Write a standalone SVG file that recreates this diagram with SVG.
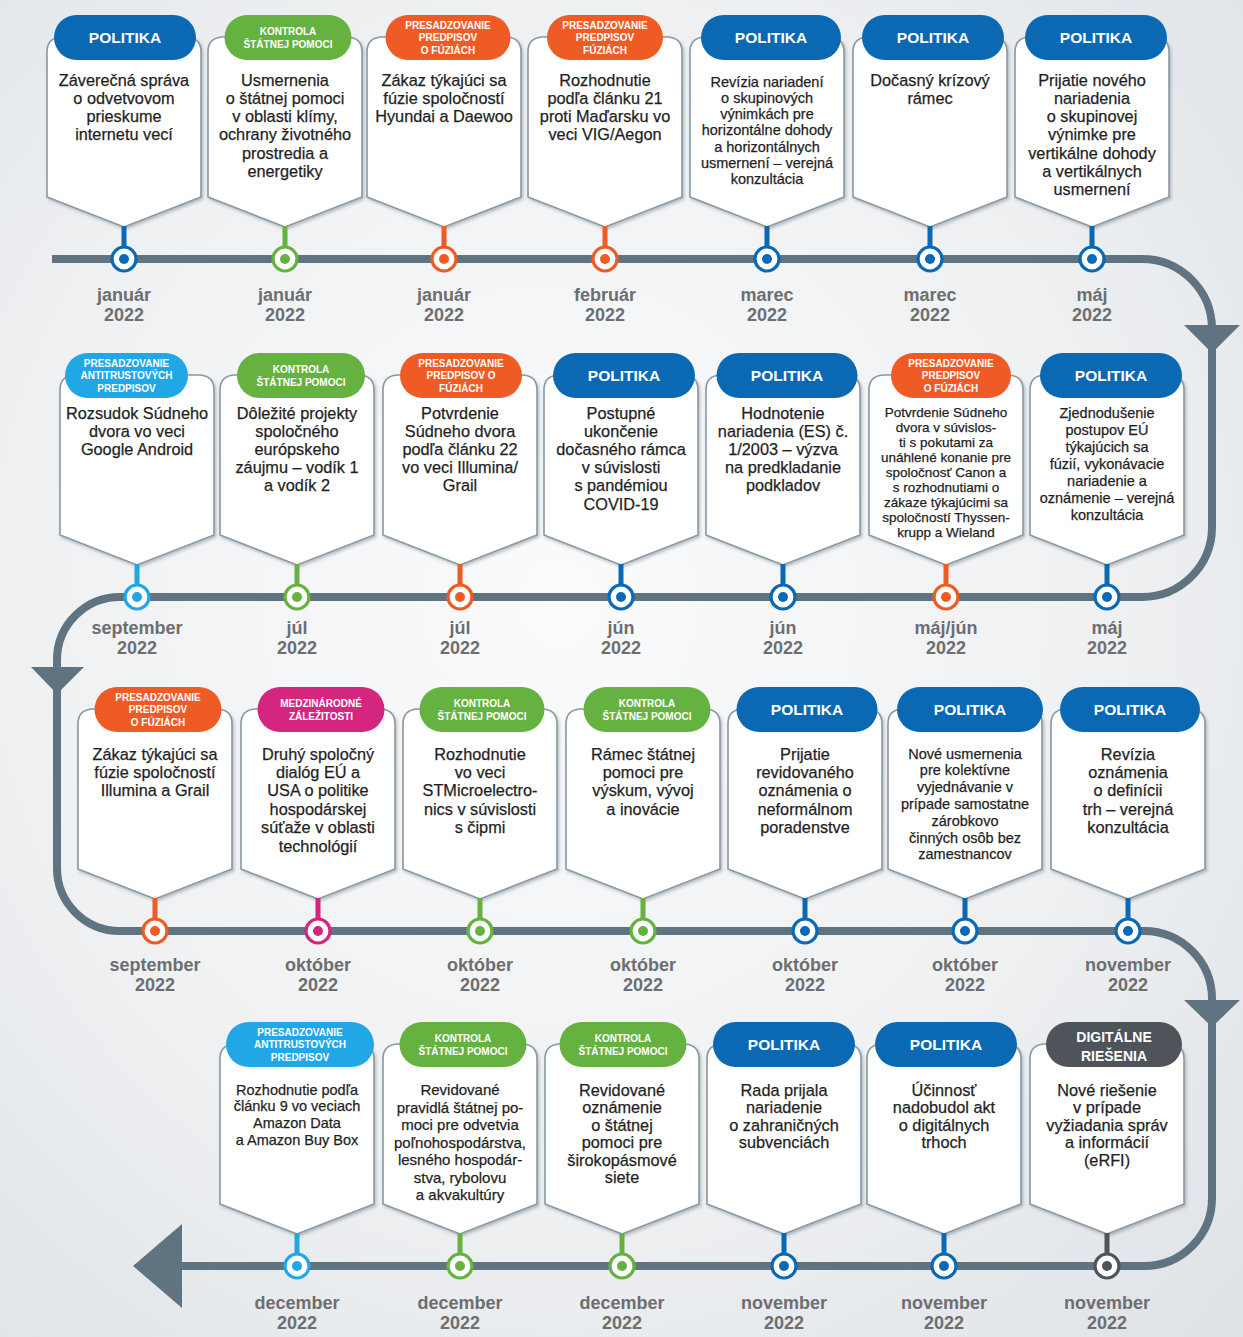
<svg xmlns="http://www.w3.org/2000/svg" xmlns:xlink="http://www.w3.org/1999/xlink" width="1243" height="1337" viewBox="0 0 1243 1337">
<defs>
<radialGradient id="bg" cx="0.45" cy="0.45" r="0.75">
<stop offset="0" stop-color="#fbfbfc"/>
<stop offset="0.6" stop-color="#eef0f2"/>
<stop offset="1" stop-color="#dfe3e7"/>
</radialGradient>
<filter id="sh" x="-20%" y="-20%" width="140%" height="140%">
<feDropShadow dx="1.5" dy="2" stdDeviation="1.5" flood-color="#4a5a66" flood-opacity="0.35"/>
</filter>
<path id="card" d="M -77 -62 L -77 -207 Q -77 -221 -63 -222 L 63 -222 Q 77 -221 77 -207 L 77 -62 L 0 -32 Z"/>
<style>
.card{fill:#ffffff;stroke:#8a98a2;stroke-width:1.6;filter:url(#sh)}
.f-pol{fill:#0b69b4}.s-pol{stroke:#0b69b4}
.f-kon{fill:#66b240}.s-kon{stroke:#66b240}
.f-fuz{fill:#ef5b25}.s-fuz{stroke:#ef5b25}
.f-ant{fill:#22a7e6}.s-ant{stroke:#22a7e6}
.f-med{fill:#d4257f}.s-med{stroke:#d4257f}
.f-dig{fill:#4e5459}.s-dig{stroke:#4e5459}
.ring{fill:#ffffff;stroke-width:3.2}
text{font-family:'Liberation Sans',Arial,sans-serif;text-anchor:middle}
.pt{font-size:15.5px;font-weight:bold;fill:#ffffff}
.ps{font-size:10px;font-weight:bold;fill:#ffffff}
.pd{font-size:14px;font-weight:bold;fill:#ffffff}
.bt,.b14,.b135,.b13,.b15{fill:#1f1f1f;stroke:#1f1f1f;stroke-width:0.25}
.bt{font-size:16.3px}
.b15{font-size:15px}
.b14{font-size:14.5px}
.b135{font-size:14.5px}
.b13{font-size:13.5px}
.dt{font-size:18px;font-weight:bold;fill:#6d6e71}
.tl{fill:none;stroke:#5f7381;stroke-width:8}
.ah{fill:#5f7381}
</style>
</defs>
<rect x="0" y="0" width="1243" height="1337" fill="url(#bg)"/>

<g id="connectors">
<path class="tl" d="M 52 259 L 1142 259 A 70 70 0 0 1 1212 329 L 1212 527 A 70 70 0 0 1 1142 597 L 120 597 A 63 63 0 0 0 57 660 L 57 868 A 63 63 0 0 0 120 931 L 1144 931 A 68 68 0 0 1 1212 999 L 1212 1198 A 68 68 0 0 1 1144 1266 L 178 1266"/>
<polygon class="ah" points="1184,325 1240,325 1212,353"/>
<polygon class="ah" points="31,667 84,667 57,694"/>
<polygon class="ah" points="1184,1000 1240,1000 1212,1027"/>
<polygon class="ah" points="133,1266 182,1224 182,1308"/>
</g>

<!-- ROW 1 -->
<g id="n01" transform="translate(124,259)">
<use href="#card" class="card"/>
<rect class="f-pol" x="-70" y="-244" width="142" height="45" rx="22.5"/>
<text class="pt" x="1" y="-216">POLITIKA</text>
<text class="bt" y="-173.5"><tspan x="0">Záverečná správa</tspan><tspan x="0" dy="18.3">o odvetvovom</tspan><tspan x="0" dy="18.3">prieskume</tspan><tspan x="0" dy="18.3">internetu vecí</tspan></text>
<rect class="f-pol" x="-2.5" y="-33" width="5" height="21"/>
<circle class="ring s-pol" r="12"/><circle class="f-pol" r="5"/>
<text class="dt" y="42">január</text><text class="dt" y="62">2022</text>
</g>

<g id="n02" transform="translate(285,259)">
<use href="#card" class="card"/>
<rect class="f-kon" x="-60.5" y="-244" width="127" height="45" rx="22.5"/>
<text class="ps" x="3" y="-224.5">KONTROLA</text>
<text class="ps" x="3" y="-211.5">ŠTÁTNEJ POMOCI</text>
<text class="bt" y="-173.5"><tspan x="0">Usmernenia</tspan><tspan x="0" dy="18.3">o štátnej pomoci</tspan><tspan x="0" dy="18.3">v oblasti klímy,</tspan><tspan x="0" dy="18.3">ochrany životného</tspan><tspan x="0" dy="18.3">prostredia a</tspan><tspan x="0" dy="18.3">energetiky</tspan></text>
<rect class="f-kon" x="-2.5" y="-33" width="5" height="21"/>
<circle class="ring s-kon" r="12"/><circle class="f-kon" r="5"/>
<text class="dt" y="42">január</text><text class="dt" y="62">2022</text>
</g>

<g id="n03" transform="translate(444,259)">
<use href="#card" class="card"/>
<rect class="f-fuz" x="-58.5" y="-244" width="125" height="45" rx="22.5"/>
<text class="ps" x="4" y="-230.5">PRESADZOVANIE</text>
<text class="ps" x="4" y="-218">PREDPISOV</text>
<text class="ps" x="4" y="-205.5">O FÚZIÁCH</text>
<text class="bt" y="-173.5"><tspan x="0">Zákaz týkajúci sa</tspan><tspan x="0" dy="18.3">fúzie spoločností</tspan><tspan x="0" dy="18.3">Hyundai a Daewoo</tspan></text>
<rect class="f-fuz" x="-2.5" y="-33" width="5" height="21"/>
<circle class="ring s-fuz" r="12"/><circle class="f-fuz" r="5"/>
<text class="dt" y="42">január</text><text class="dt" y="62">2022</text>
</g>

<g id="n04" transform="translate(605,259)">
<use href="#card" class="card"/>
<rect class="f-fuz" x="-58" y="-244" width="116" height="45" rx="22.5"/>
<text class="ps" y="-230.5">PRESADZOVANIE</text>
<text class="ps" y="-218">PREDPISOV</text>
<text class="ps" y="-205.5">FÚZIÁCH</text>
<text class="bt" y="-173.5"><tspan x="0">Rozhodnutie</tspan><tspan x="0" dy="18.3">podľa článku 21</tspan><tspan x="0" dy="18.3">proti Maďarsku vo</tspan><tspan x="0" dy="18.3">veci VIG/Aegon</tspan></text>
<rect class="f-fuz" x="-2.5" y="-33" width="5" height="21"/>
<circle class="ring s-fuz" r="12"/><circle class="f-fuz" r="5"/>
<text class="dt" y="42">február</text><text class="dt" y="62">2022</text>
</g>

<g id="n05" transform="translate(767,259)">
<use href="#card" class="card"/>
<rect class="f-pol" x="-66" y="-244" width="140" height="45" rx="22.5"/>
<text class="pt" x="4" y="-216">POLITIKA</text>
<text class="b135" y="-172.5"><tspan x="0">Revízia nariadení</tspan><tspan x="0" dy="16.3">o skupinových</tspan><tspan x="0" dy="16.3">výnimkách pre</tspan><tspan x="0" dy="16.3">horizontálne dohody</tspan><tspan x="0" dy="16.3">a horizontálnych</tspan><tspan x="0" dy="16.3">usmernení – verejná</tspan><tspan x="0" dy="16.3">konzultácia</tspan></text>
<rect class="f-pol" x="-2.5" y="-33" width="5" height="21"/>
<circle class="ring s-pol" r="12"/><circle class="f-pol" r="5"/>
<text class="dt" y="42">marec</text><text class="dt" y="62">2022</text>
</g>

<g id="n06" transform="translate(930,259)">
<use href="#card" class="card"/>
<rect class="f-pol" x="-68" y="-244" width="142" height="45" rx="22.5"/>
<text class="pt" x="3" y="-216">POLITIKA</text>
<text class="bt" y="-173.5"><tspan x="0">Dočasný krízový</tspan><tspan x="0" dy="18.3">rámec</tspan></text>
<rect class="f-pol" x="-2.5" y="-33" width="5" height="21"/>
<circle class="ring s-pol" r="12"/><circle class="f-pol" r="5"/>
<text class="dt" y="42">marec</text><text class="dt" y="62">2022</text>
</g>

<g id="n07" transform="translate(1092,259)">
<use href="#card" class="card"/>
<rect class="f-pol" x="-67" y="-244" width="142" height="45" rx="22.5"/>
<text class="pt" x="4" y="-216">POLITIKA</text>
<text class="bt" y="-173.5"><tspan x="0">Prijatie nového</tspan><tspan x="0" dy="18.3">nariadenia</tspan><tspan x="0" dy="18.3">o skupinovej</tspan><tspan x="0" dy="18.3">výnimke pre</tspan><tspan x="0" dy="18.3">vertikálne dohody</tspan><tspan x="0" dy="18.3">a vertikálnych</tspan><tspan x="0" dy="18.3">usmernení</tspan></text>
<rect class="f-pol" x="-2.5" y="-33" width="5" height="21"/>
<circle class="ring s-pol" r="12"/><circle class="f-pol" r="5"/>
<text class="dt" y="42">máj</text><text class="dt" y="62">2022</text>
</g>

<!-- ROW 2 -->
<g id="n08" transform="translate(137,597)">
<use href="#card" class="card"/>
<rect class="f-ant" x="-72" y="-244" width="123" height="45" rx="22.5"/>
<text class="ps" x="-10.5" y="-230.5">PRESADZOVANIE</text>
<text class="ps" x="-10.5" y="-218">ANTITRUSTOVÝCH</text>
<text class="ps" x="-10.5" y="-205.5">PREDPISOV</text>
<text class="bt" y="-178.5"><tspan x="0">Rozsudok Súdneho</tspan><tspan x="0" dy="18.2">dvora vo veci</tspan><tspan x="0" dy="18.2">Google Android</tspan></text>
<rect class="f-ant" x="-2.5" y="-33" width="5" height="21"/>
<circle class="ring s-ant" r="12"/><circle class="f-ant" r="5"/>
<text class="dt" y="37">september</text><text class="dt" y="57">2022</text>
</g>

<g id="n09" transform="translate(297,597)">
<use href="#card" class="card"/>
<rect class="f-kon" x="-60" y="-244" width="128" height="45" rx="22.5"/>
<text class="ps" x="4" y="-224.5">KONTROLA</text>
<text class="ps" x="4" y="-211.5">ŠTÁTNEJ POMOCI</text>
<text class="bt" y="-178.5"><tspan x="0">Dôležité projekty</tspan><tspan x="0" dy="18.2">spoločného</tspan><tspan x="0" dy="18.2">európskeho</tspan><tspan x="0" dy="18.2">záujmu – vodík 1</tspan><tspan x="0" dy="18.2">a vodík 2</tspan></text>
<rect class="f-kon" x="-2.5" y="-33" width="5" height="21"/>
<circle class="ring s-kon" r="12"/><circle class="f-kon" r="5"/>
<text class="dt" y="37">júl</text><text class="dt" y="57">2022</text>
</g>

<g id="n10" transform="translate(460,597)">
<use href="#card" class="card"/>
<rect class="f-fuz" x="-60" y="-244" width="122" height="45" rx="22.5"/>
<text class="ps" x="1" y="-230.5">PRESADZOVANIE</text>
<text class="ps" x="1" y="-218">PREDPISOV O</text>
<text class="ps" x="1" y="-205.5">FÚZIÁCH</text>
<text class="bt" y="-178.5"><tspan x="0">Potvrdenie</tspan><tspan x="0" dy="18.2">Súdneho dvora</tspan><tspan x="0" dy="18.2">podľa článku 22</tspan><tspan x="0" dy="18.2">vo veci Illumina/</tspan><tspan x="0" dy="18.2">Grail</tspan></text>
<rect class="f-fuz" x="-2.5" y="-33" width="5" height="21"/>
<circle class="ring s-fuz" r="12"/><circle class="f-fuz" r="5"/>
<text class="dt" y="37">júl</text><text class="dt" y="57">2022</text>
</g>

<g id="n11" transform="translate(621,597)">
<use href="#card" class="card"/>
<rect class="f-pol" x="-68" y="-244" width="142" height="45" rx="22.5"/>
<text class="pt" x="3" y="-216">POLITIKA</text>
<text class="bt" y="-178.5"><tspan x="0">Postupné</tspan><tspan x="0" dy="18.2">ukončenie</tspan><tspan x="0" dy="18.2">dočasného rámca</tspan><tspan x="0" dy="18.2">v súvislosti</tspan><tspan x="0" dy="18.2">s pandémiou</tspan><tspan x="0" dy="18.2">COVID-19</tspan></text>
<rect class="f-pol" x="-2.5" y="-33" width="5" height="21"/>
<circle class="ring s-pol" r="12"/><circle class="f-pol" r="5"/>
<text class="dt" y="37">jún</text><text class="dt" y="57">2022</text>
</g>

<g id="n12" transform="translate(783,597)">
<use href="#card" class="card"/>
<rect class="f-pol" x="-66.5" y="-244" width="141" height="45" rx="22.5"/>
<text class="pt" x="4" y="-216">POLITIKA</text>
<text class="bt" y="-178.5"><tspan x="0">Hodnotenie</tspan><tspan x="0" dy="18.2">nariadenia (ES) č.</tspan><tspan x="0" dy="18.2">1/2003 – výzva</tspan><tspan x="0" dy="18.2">na predkladanie</tspan><tspan x="0" dy="18.2">podkladov</tspan></text>
<rect class="f-pol" x="-2.5" y="-33" width="5" height="21"/>
<circle class="ring s-pol" r="12"/><circle class="f-pol" r="5"/>
<text class="dt" y="37">jún</text><text class="dt" y="57">2022</text>
</g>

<g id="n13" transform="translate(946,597)">
<use href="#card" class="card"/>
<rect class="f-fuz" x="-55" y="-244" width="120" height="45" rx="22.5"/>
<text class="ps" x="5" y="-230.5">PRESADZOVANIE</text>
<text class="ps" x="5" y="-218">PREDPISOV</text>
<text class="ps" x="5" y="-205.5">O FÚZIÁCH</text>
<text class="b13" y="-180.5"><tspan x="0">Potvrdenie Súdneho</tspan><tspan x="0" dy="15.1">dvora v súvislos-</tspan><tspan x="0" dy="15.1">ti s pokutami za</tspan><tspan x="0" dy="15.1">unáhlené konanie pre</tspan><tspan x="0" dy="15.1">spoločnosť Canon a</tspan><tspan x="0" dy="15.1">s rozhodnutiami o</tspan><tspan x="0" dy="15.1">zákaze týkajúcimi sa</tspan><tspan x="0" dy="15.1">spoločností Thyssen-</tspan><tspan x="0" dy="15.1">krupp a Wieland</tspan></text>
<rect class="f-fuz" x="-2.5" y="-33" width="5" height="21"/>
<circle class="ring s-fuz" r="12"/><circle class="f-fuz" r="5"/>
<text class="dt" y="37">máj/jún</text><text class="dt" y="57">2022</text>
</g>

<g id="n14" transform="translate(1107,597)">
<use href="#card" class="card"/>
<rect class="f-pol" x="-67" y="-244" width="142" height="45" rx="22.5"/>
<text class="pt" x="4" y="-216">POLITIKA</text>
<text class="b135" y="-179.5"><tspan x="0">Zjednodušenie</tspan><tspan x="0" dy="17">postupov EÚ</tspan><tspan x="0" dy="17">týkajúcich sa</tspan><tspan x="0" dy="17">fúzií, vykonávacie</tspan><tspan x="0" dy="17">nariadenie a</tspan><tspan x="0" dy="17">oznámenie – verejná</tspan><tspan x="0" dy="17">konzultácia</tspan></text>
<rect class="f-pol" x="-2.5" y="-33" width="5" height="21"/>
<circle class="ring s-pol" r="12"/><circle class="f-pol" r="5"/>
<text class="dt" y="37">máj</text><text class="dt" y="57">2022</text>
</g>

<!-- ROW 3 -->
<g id="n15" transform="translate(155,931)">
<use href="#card" class="card"/>
<rect class="f-fuz" x="-60.5" y="-244" width="127" height="45" rx="22.5"/>
<text class="ps" x="3" y="-230.5">PRESADZOVANIE</text>
<text class="ps" x="3" y="-218">PREDPISOV</text>
<text class="ps" x="3" y="-205.5">O FÚZIÁCH</text>
<text class="bt" y="-171.5"><tspan x="0">Zákaz týkajúci sa</tspan><tspan x="0" dy="18.4">fúzie spoločností</tspan><tspan x="0" dy="18.4">Illumina a Grail</tspan></text>
<rect class="f-fuz" x="-2.5" y="-33" width="5" height="21"/>
<circle class="ring s-fuz" r="12"/><circle class="f-fuz" r="5"/>
<text class="dt" y="40">september</text><text class="dt" y="60">2022</text>
</g>

<g id="n16" transform="translate(318,931)">
<use href="#card" class="card"/>
<rect class="f-med" x="-60.5" y="-244" width="127" height="45" rx="22.5"/>
<text class="ps" x="3" y="-224.5">MEDZINÁRODNÉ</text>
<text class="ps" x="3" y="-211.5">ZÁLEŽITOSTI</text>
<text class="bt" y="-171.5"><tspan x="0">Druhý spoločný</tspan><tspan x="0" dy="18.4">dialóg EÚ a</tspan><tspan x="0" dy="18.4">USA o politike</tspan><tspan x="0" dy="18.4">hospodárskej</tspan><tspan x="0" dy="18.4">súťaže v oblasti</tspan><tspan x="0" dy="18.4">technológií</tspan></text>
<rect class="f-med" x="-2.5" y="-33" width="5" height="21"/>
<circle class="ring s-med" r="12"/><circle class="f-med" r="5"/>
<text class="dt" y="40">október</text><text class="dt" y="60">2022</text>
</g>

<g id="n17" transform="translate(480,931)">
<use href="#card" class="card"/>
<rect class="f-kon" x="-60.5" y="-244" width="125" height="45" rx="22.5"/>
<text class="ps" x="2" y="-224.5">KONTROLA</text>
<text class="ps" x="2" y="-211.5">ŠTÁTNEJ POMOCI</text>
<text class="bt" y="-171.5"><tspan x="0">Rozhodnutie</tspan><tspan x="0" dy="18.4">vo veci</tspan><tspan x="0" dy="18.4">STMicroelectro-</tspan><tspan x="0" dy="18.4">nics v súvislosti</tspan><tspan x="0" dy="18.4">s čipmi</tspan></text>
<rect class="f-kon" x="-2.5" y="-33" width="5" height="21"/>
<circle class="ring s-kon" r="12"/><circle class="f-kon" r="5"/>
<text class="dt" y="40">október</text><text class="dt" y="60">2022</text>
</g>

<g id="n18" transform="translate(643,931)">
<use href="#card" class="card"/>
<rect class="f-kon" x="-59.5" y="-244" width="127" height="45" rx="22.5"/>
<text class="ps" x="4" y="-224.5">KONTROLA</text>
<text class="ps" x="4" y="-211.5">ŠTÁTNEJ POMOCI</text>
<text class="bt" y="-171.5"><tspan x="0">Rámec štátnej</tspan><tspan x="0" dy="18.4">pomoci pre</tspan><tspan x="0" dy="18.4">výskum, vývoj</tspan><tspan x="0" dy="18.4">a inovácie</tspan></text>
<rect class="f-kon" x="-2.5" y="-33" width="5" height="21"/>
<circle class="ring s-kon" r="12"/><circle class="f-kon" r="5"/>
<text class="dt" y="40">október</text><text class="dt" y="60">2022</text>
</g>

<g id="n19" transform="translate(805,931)">
<use href="#card" class="card"/>
<rect class="f-pol" x="-68.5" y="-244" width="141" height="45" rx="22.5"/>
<text class="pt" x="2" y="-216">POLITIKA</text>
<text class="bt" y="-171.5"><tspan x="0">Prijatie</tspan><tspan x="0" dy="18.4">revidovaného</tspan><tspan x="0" dy="18.4">oznámenia o</tspan><tspan x="0" dy="18.4">neformálnom</tspan><tspan x="0" dy="18.4">poradenstve</tspan></text>
<rect class="f-pol" x="-2.5" y="-33" width="5" height="21"/>
<circle class="ring s-pol" r="12"/><circle class="f-pol" r="5"/>
<text class="dt" y="40">október</text><text class="dt" y="60">2022</text>
</g>

<g id="n20" transform="translate(965,931)">
<use href="#card" class="card"/>
<rect class="f-pol" x="-68" y="-244" width="146" height="45" rx="22.5"/>
<text class="pt" x="5" y="-216">POLITIKA</text>
<text class="b14" y="-172.5"><tspan x="0">Nové usmernenia</tspan><tspan x="0" dy="16.8">pre kolektívne</tspan><tspan x="0" dy="16.8">vyjednávanie v</tspan><tspan x="0" dy="16.8">prípade samostatne</tspan><tspan x="0" dy="16.8">zárobkovo</tspan><tspan x="0" dy="16.8">činných osôb bez</tspan><tspan x="0" dy="16.8">zamestnancov</tspan></text>
<rect class="f-pol" x="-2.5" y="-33" width="5" height="21"/>
<circle class="ring s-pol" r="12"/><circle class="f-pol" r="5"/>
<text class="dt" y="40">október</text><text class="dt" y="60">2022</text>
</g>

<g id="n21" transform="translate(1128,931)">
<use href="#card" class="card"/>
<rect class="f-pol" x="-68" y="-244" width="140" height="45" rx="22.5"/>
<text class="pt" x="2" y="-216">POLITIKA</text>
<text class="bt" y="-171.5"><tspan x="0">Revízia</tspan><tspan x="0" dy="18.4">oznámenia</tspan><tspan x="0" dy="18.4">o definícii</tspan><tspan x="0" dy="18.4">trh – verejná</tspan><tspan x="0" dy="18.4">konzultácia</tspan></text>
<rect class="f-pol" x="-2.5" y="-33" width="5" height="21"/>
<circle class="ring s-pol" r="12"/><circle class="f-pol" r="5"/>
<text class="dt" y="40">november</text><text class="dt" y="60">2022</text>
</g>

<!-- ROW 4 -->
<g id="n22" transform="translate(297,1266)">
<use href="#card" class="card"/>
<rect class="f-ant" x="-71" y="-244" width="148" height="45" rx="22.5"/>
<text class="ps" x="3" y="-230.5">PRESADZOVANIE</text>
<text class="ps" x="3" y="-218">ANTITRUSTOVÝCH</text>
<text class="ps" x="3" y="-205.5">PREDPISOV</text>
<text class="b14" y="-171.5"><tspan x="0">Rozhodnutie podľa</tspan><tspan x="0" dy="16.7">článku 9 vo veciach</tspan><tspan x="0" dy="16.7">Amazon Data</tspan><tspan x="0" dy="16.7">a Amazon Buy Box</tspan></text>
<rect class="f-ant" x="-2.5" y="-33" width="5" height="21"/>
<circle class="ring s-ant" r="12"/><circle class="f-ant" r="5"/>
<text class="dt" y="43">december</text><text class="dt" y="63">2022</text>
</g>

<g id="n23" transform="translate(460,1266)">
<use href="#card" class="card"/>
<rect class="f-kon" x="-60.5" y="-244" width="127" height="45" rx="22.5"/>
<text class="ps" x="3" y="-224.5">KONTROLA</text>
<text class="ps" x="3" y="-211.5">ŠTÁTNEJ POMOCI</text>
<text class="b15" y="-171"><tspan x="0">Revidované</tspan><tspan x="0" dy="17.5">pravidlá štátnej po-</tspan><tspan x="0" dy="17.5">moci pre odvetvia</tspan><tspan x="0" dy="17.5">poľnohospodárstva,</tspan><tspan x="0" dy="17.5">lesného hospodár-</tspan><tspan x="0" dy="17.5">stva, rybolovu</tspan><tspan x="0" dy="17.5">a akvakultúry</tspan></text>
<rect class="f-kon" x="-2.5" y="-33" width="5" height="21"/>
<circle class="ring s-kon" r="12"/><circle class="f-kon" r="5"/>
<text class="dt" y="43">december</text><text class="dt" y="63">2022</text>
</g>

<g id="n24" transform="translate(622,1266)">
<use href="#card" class="card"/>
<rect class="f-kon" x="-62.5" y="-244" width="127" height="45" rx="22.5"/>
<text class="ps" x="1" y="-224.5">KONTROLA</text>
<text class="ps" x="1" y="-211.5">ŠTÁTNEJ POMOCI</text>
<text class="bt" y="-170.5"><tspan x="0">Revidované</tspan><tspan x="0" dy="17.5">oznámenie</tspan><tspan x="0" dy="17.5">o štátnej</tspan><tspan x="0" dy="17.5">pomoci pre</tspan><tspan x="0" dy="17.5">širokopásmové</tspan><tspan x="0" dy="17.5">siete</tspan></text>
<rect class="f-kon" x="-2.5" y="-33" width="5" height="21"/>
<circle class="ring s-kon" r="12"/><circle class="f-kon" r="5"/>
<text class="dt" y="43">december</text><text class="dt" y="63">2022</text>
</g>

<g id="n25" transform="translate(784,1266)">
<use href="#card" class="card"/>
<rect class="f-pol" x="-71" y="-244" width="142" height="45" rx="22.5"/>
<text class="pt" y="-216">POLITIKA</text>
<text class="bt" y="-170.5"><tspan x="0">Rada prijala</tspan><tspan x="0" dy="17.5">nariadenie</tspan><tspan x="0" dy="17.5">o zahraničných</tspan><tspan x="0" dy="17.5">subvenciách</tspan></text>
<rect class="f-pol" x="-2.5" y="-33" width="5" height="21"/>
<circle class="ring s-pol" r="12"/><circle class="f-pol" r="5"/>
<text class="dt" y="43">november</text><text class="dt" y="63">2022</text>
</g>

<g id="n26" transform="translate(944,1266)">
<use href="#card" class="card"/>
<rect class="f-pol" x="-69" y="-244" width="142" height="45" rx="22.5"/>
<text class="pt" x="2" y="-216">POLITIKA</text>
<text class="bt" y="-170.5"><tspan x="0">Účinnosť</tspan><tspan x="0" dy="17.5">nadobudol akt</tspan><tspan x="0" dy="17.5">o digitálnych</tspan><tspan x="0" dy="17.5">trhoch</tspan></text>
<rect class="f-pol" x="-2.5" y="-33" width="5" height="21"/>
<circle class="ring s-pol" r="12"/><circle class="f-pol" r="5"/>
<text class="dt" y="43">november</text><text class="dt" y="63">2022</text>
</g>

<g id="n27" transform="translate(1107,1266)">
<use href="#card" class="card"/>
<rect class="f-dig" x="-61" y="-244" width="136" height="45" rx="22.5"/>
<text class="pd" x="7" y="-224">DIGITÁLNE</text>
<text class="pd" x="7" y="-205">RIEŠENIA</text>
<text class="bt" y="-170.5"><tspan x="0">Nové riešenie</tspan><tspan x="0" dy="17.5">v prípade</tspan><tspan x="0" dy="17.5">vyžiadania správ</tspan><tspan x="0" dy="17.5">a informácií</tspan><tspan x="0" dy="17.5">(eRFI)</tspan></text>
<rect class="f-dig" x="-2.5" y="-33" width="5" height="21"/>
<circle class="ring s-dig" r="12"/><circle class="f-dig" r="5"/>
<text class="dt" y="43">november</text><text class="dt" y="63">2022</text>
</g>
</svg>
